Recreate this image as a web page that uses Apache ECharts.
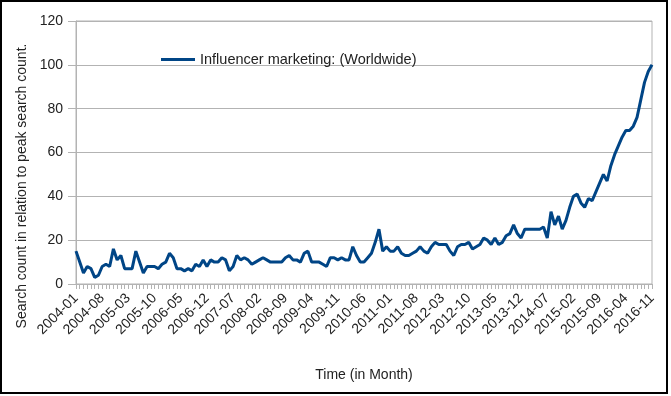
<!DOCTYPE html>
<html>
<head>
<meta charset="utf-8">
<script src="https://cdn.jsdelivr.net/npm/echarts@6/dist/echarts.min.js"></script>
<style>
html,body{margin:0;padding:0;background:#fff;}
#chart{width:671px;height:396px;}
</style>
</head>
<body>
<div id="chart"></div>
<script>
// Monthly categories 2004-01 .. 2016-11
const months = [];
for (let y = 2004; y <= 2016; y++) {
  for (let m = 1; m <= 12; m++) {
    if (y === 2016 && m > 11) break;
    months.push(y + '-' + (m < 10 ? '0' + m : m));
  }
}
const seriesName = 'Influencer marketing: (Worldwide)';
const values = [
  15, 10, 5, 8, 7, 3, 4, 8, 9, 8,
  16, 11, 13, 7, 7, 7, 15, 10, 5, 8,
  8, 8, 7, 9, 10, 14, 12, 7, 7, 6,
  7, 6, 9, 8, 11, 8, 11, 10, 10, 12,
  11, 6, 8, 13, 11, 12, 11, 9, 10, 11,
  12, 11, 10, 10, 10, 10, 12, 13, 11, 11,
  10, 14, 15, 10, 10, 10, 9, 8, 12, 12,
  11, 12, 11, 11, 17, 13, 10, 10, 12, 14,
  19, 25, 15, 17, 15, 15, 17, 14, 13, 13,
  14, 15, 17, 15, 14, 17, 19, 18, 18, 18,
  15, 13, 17, 18, 18, 19, 16, 17, 18, 21,
  20, 18, 21, 18, 19, 22, 23, 27, 23, 21,
  25, 25, 25, 25, 25, 26, 21, 33, 27, 31,
  25, 29, 35, 40, 41, 37, 35, 39, 38, 42,
  46, 50, 47, 54, 59, 63, 67, 70, 70, 72,
  76, 84, 92, 97, 100
];
const yTicks = {min: 0, max: 120, interval: 20};
const xTitle = 'Time (in Month)';
const yTitle = 'Search count in relation to peak search count.';

const font = 'Liberation Sans, Arial, sans-serif';
const chart = echarts.init(document.getElementById('chart'), null, {renderer: 'canvas'});
chart.setOption({
  animation: false,
  backgroundColor: '#fff',
  grid: {left: 76, right: 19, top: 21, bottom: 112, show: true, borderColor: '#b3b3b3', borderWidth: 1, containLabel: false},
  legend: {
    left: 156, top: 47,
    itemWidth: 34, itemHeight: 3, itemGap: 5,
    icon: 'rect',
    textStyle: {fontFamily: font, fontSize: 14.5, color: '#222'},
    data: [seriesName]
  },
  xAxis: {
    type: 'category',
    data: months,
    boundaryGap: false,
    name: xTitle,
    nameLocation: 'middle',
    nameGap: 84,
    nameTextStyle: {fontFamily: font, fontSize: 14, color: '#222'},
    axisLine: {lineStyle: {color: '#b3b3b3', width: 1}},
    axisTick: {show: true, interval: 0, length: 5, lineStyle: {color: '#b3b3b3'}},
    axisLabel: {interval: 6, rotate: 45, margin: 12, fontFamily: font, fontSize: 14, color: '#222'},
    splitLine: {show: false}
  },
  yAxis: {
    type: 'value',
    min: yTicks.min, max: yTicks.max, interval: yTicks.interval,
    axisLine: {show: true, lineStyle: {color: '#b3b3b3', width: 1}},
    axisTick: {show: true, length: 8, lineStyle: {color: '#b3b3b3'}},
    axisLabel: {margin: 13, fontFamily: font, fontSize: 14, color: '#222'},
    splitLine: {show: true, lineStyle: {color: '#b3b3b3', width: 1}}
  },
  graphic: [
    {type: 'text', x: 22, y: 186, rotation: Math.PI / 2,
     style: {text: yTitle, fontFamily: font, fontSize: 14, fill: '#222', align: 'center', verticalAlign: 'middle'}},
    {type: 'rect', shape: {x: 1, y: 1, width: 666, height: 392}, style: {fill: 'none', stroke: '#000', lineWidth: 2}, silent: true}
  ],
  series: [{
    name: seriesName,
    type: 'line',
    data: values,
    showSymbol: false,
    symbol: 'none',
    lineStyle: {color: '#004586', width: 3},
    itemStyle: {color: '#004586'}
  }]
});
</script>
</body>
</html>
